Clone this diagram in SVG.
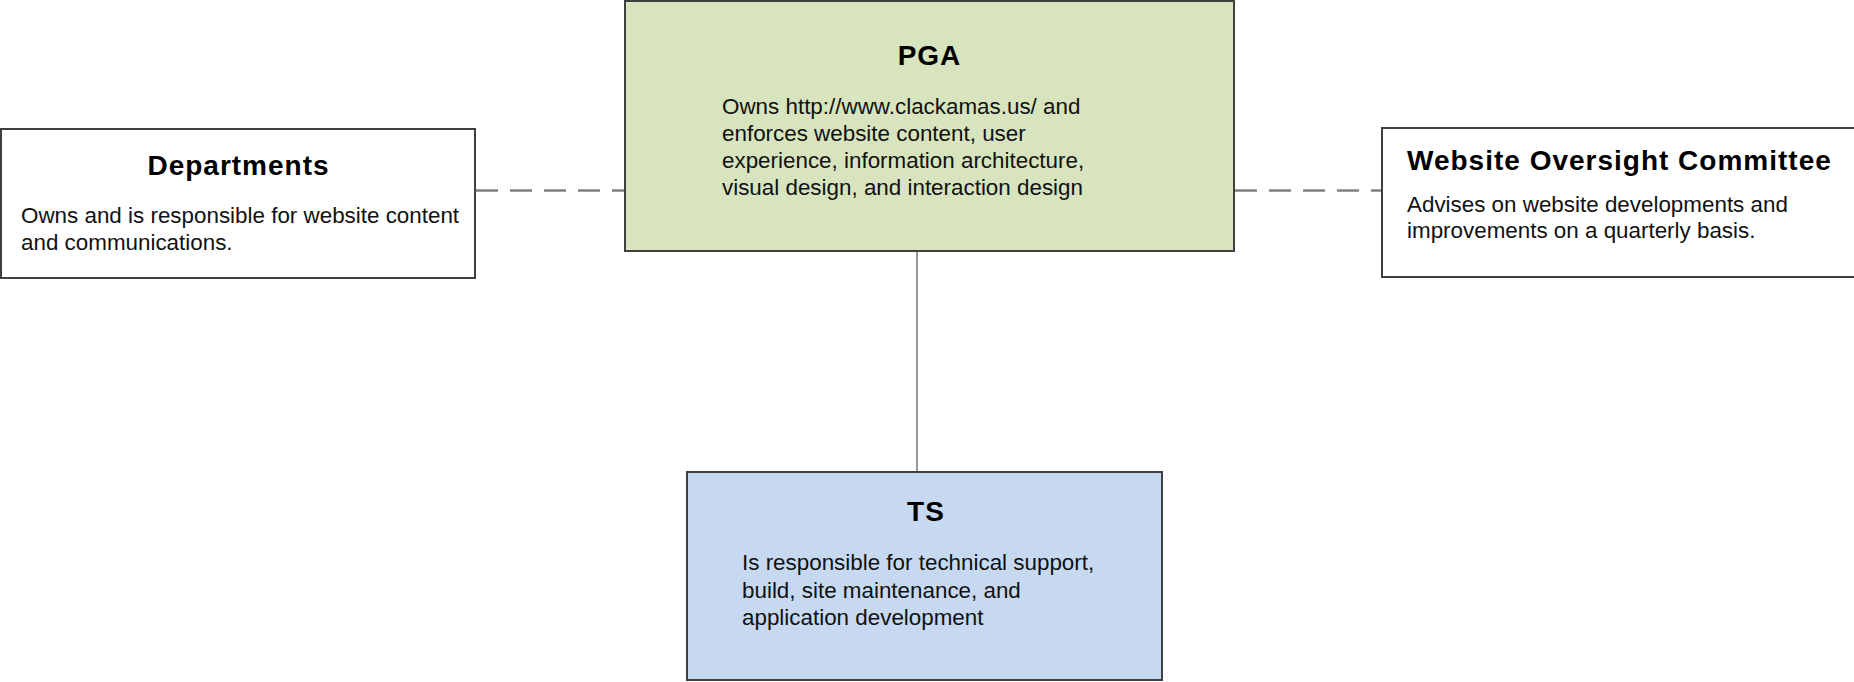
<svg xmlns="http://www.w3.org/2000/svg" width="1854" height="682" viewBox="0 0 1854 682">
  <style>
    .box { stroke: #404040; stroke-width: 2; }
    .title { font-family: "Liberation Sans", Arial, sans-serif; font-size: 28px; font-weight: bold; fill: #000; letter-spacing: 1px; }
    .body { font-family: "Liberation Sans", Arial, sans-serif; font-size: 22.4px; fill: #111; }
    .dash { stroke: #808080; stroke-width: 2.5; stroke-dasharray: 22 12; fill: none; }
    .solid { stroke: #999; stroke-width: 2; fill: none; }
  </style>
  <rect width="1854" height="682" fill="#fff"/>
  <g id="connectors">
    <line class="dash" x1="476" y1="190.5" x2="624" y2="190.5"/>
    <line class="dash" x1="1235" y1="190.5" x2="1381" y2="190.5"/>
    <line class="solid" x1="917" y1="252" x2="917" y2="477"/>
  </g>
  <g id="departments">
    <rect class="box" x="1" y="129" width="474" height="149" fill="#fff"/>
    <text class="title" x="238.5" y="175" text-anchor="middle">Departments</text>
    <text class="body" x="21" y="223">Owns and is responsible for website content</text>
    <text class="body" x="21" y="250">and communications.</text>
  </g>
  <g id="pga">
    <rect class="box" x="625" y="1" width="609" height="250" fill="#d7e4bd"/>
    <text class="title" x="929.5" y="65" text-anchor="middle">PGA</text>
    <text class="body" x="722" y="114">Owns http://www.clackamas.us/ and</text>
    <text class="body" x="722" y="141">enforces website content, user</text>
    <text class="body" x="722" y="168">experience, information architecture,</text>
    <text class="body" x="722" y="195">visual design, and interaction design</text>
  </g>
  <g id="committee">
    <rect class="box" x="1382" y="128" width="490" height="149" fill="#fff"/>
    <text class="title" x="1407" y="170">Website Oversight Committee</text>
    <text class="body" x="1407" y="212">Advises on website developments and</text>
    <text class="body" x="1407" y="238">improvements on a quarterly basis.</text>
  </g>
  <g id="ts">
    <rect class="box" x="687" y="472" width="475" height="208" fill="#c6d9f0"/>
    <text class="title" x="926" y="521" text-anchor="middle">TS</text>
    <text class="body" x="742" y="570">Is responsible for technical support,</text>
    <text class="body" x="742" y="598">build, site maintenance, and</text>
    <text class="body" x="742" y="625">application development</text>
  </g>
</svg>
